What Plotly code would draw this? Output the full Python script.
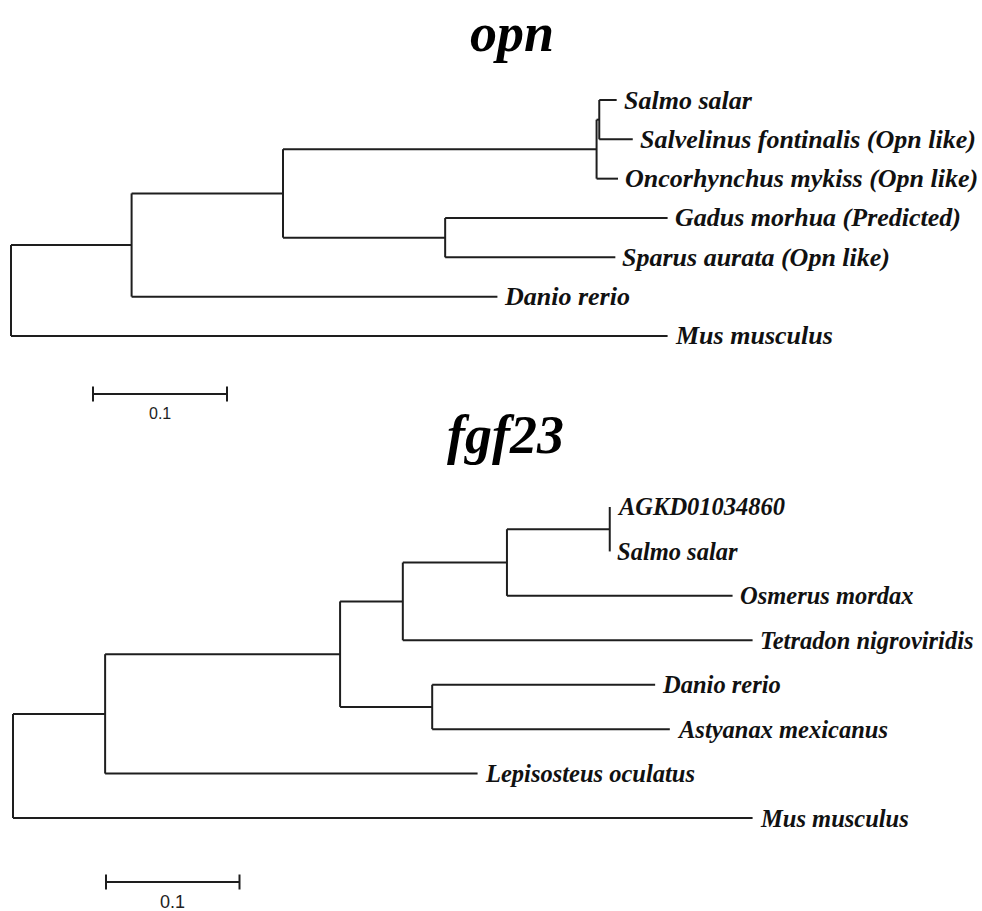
import plotly.graph_objects as go

# ---------------- data ----------------
# opn tree: node ids, parent ids, branch lengths (substitutions/site)
opn_nodes = ["root", "n1", "n2", "n3", "n4",
             "Salmo salar", "Salvelinus fontinalis (Opn like)", "Oncorhynchus mykiss (Opn like)",
             "n5", "Gadus morhua (Predicted)", "Sparus aurata (Opn like)",
             "Danio rerio", "Mus musculus"]
opn_parents = [None, "root", "n1", "n2", "n3",
               "n4", "n4", "n3",
               "n2", "n5", "n5",
               "n1", "root"]
opn_lengths = [0.0, 0.090, 0.113, 0.234, 0.002,
               0.013, 0.025, 0.016,
               0.121, 0.166, 0.127,
               0.273, 0.490]

# fgf23 tree
fgf_nodes = ["root", "m1", "m2", "m3", "m4", "m5",
             "AGKD01034860", "Salmo salar", "Osmerus mordax", "Tetradon nigroviridis",
             "m6", "Danio rerio", "Astyanax mexicanus",
             "Lepisosteus oculatus", "Mus musculus"]
fgf_parents = [None, "root", "m1", "m2", "m3", "m4",
               "m5", "m5", "m4", "m3",
               "m2", "m6", "m6",
               "m1", "root"]
fgf_lengths = [0.0, 0.069, 0.176, 0.047, 0.078, 0.077,
               0.0, 0.0, 0.169, 0.262,
               0.069, 0.167, 0.178,
               0.279, 0.554]

scale_bar_length = 0.1
titles = ["opn", "fgf23"]

# ---------------- layout constants ----------------
W, H = 982, 911
LINE = dict(color="#1e1e1e", width=2)
LABEL_FONT = dict(family="Liberation Serif", color="#111111", weight="bold", style="italic")
TITLE_FONT = dict(family="Liberation Serif", size=54, color="#000000", weight="bold", style="italic")
SCALE_FONT = dict(family="Liberation Sans", color="#222222")


def layout_tree(nodes, parents, lengths):
    children = {n: [] for n in nodes}
    for n, p in zip(nodes, parents):
        if p is not None:
            children[p].append(n)
    blen = dict(zip(nodes, lengths))
    xpos, ypos = {}, {}
    counter = [0]

    def walk(n, x):
        xpos[n] = x + blen[n]
        if children[n]:
            for c in children[n]:
                walk(c, xpos[n])
            ys = [ypos[c] for c in children[n]]
            ypos[n] = (min(ys) + max(ys)) / 2
        else:
            ypos[n] = counter[0]
            counter[0] += 1

    root = nodes[parents.index(None)]
    walk(root, 0.0)
    return children, xpos, ypos


def tree_segments(nodes, parents, children, xpos, ypos):
    xs, ys = [], []
    for n, p in zip(nodes, parents):
        if p is not None:
            xs += [xpos[p], xpos[n], None]
            ys += [ypos[n], ypos[n], None]
        if children[n]:
            cy = [ypos[c] for c in children[n]]
            xs += [xpos[n], xpos[n], None]
            ys += [min(cy), max(cy), None]
    return xs, ys


fig = go.Figure()
annotations = []

panels = [
    dict(nodes=opn_nodes, parents=opn_parents, lengths=opn_lengths, ax="", root_px=11, ppu=1340,
         leaf0=100, dy=39.33, top=0, bot=455, sb_x=93, sb_y=394, sb_ly=413, sb_fs=16, lab_fs=26,
         title=titles[0], title_x=512, title_y=33),
    dict(nodes=fgf_nodes, parents=fgf_parents, lengths=fgf_lengths, ax="2", root_px=13, ppu=1335,
         leaf0=507, dy=44.43, top=455, bot=911, sb_x=106, sb_y=882, sb_ly=902, sb_fs=18, lab_fs=24.5,
         title=titles[1], title_x=505, title_y=435),
]

for P in panels:
    children, xpos, ypos = layout_tree(P["nodes"], P["parents"], P["lengths"])
    xs, ys = tree_segments(P["nodes"], P["parents"], children, xpos, ypos)
    xa, ya = "x" + P["ax"], "y" + P["ax"]
    fig.add_trace(go.Scatter(x=xs, y=ys, mode="lines", line=LINE, xaxis=xa, yaxis=ya,
                             hoverinfo="skip", showlegend=False))
    for n in P["nodes"]:
        if not children[n]:
            annotations.append(dict(x=xpos[n], y=ypos[n], xref=xa, yref=ya, text=n, showarrow=False,
                                    xanchor="left", yanchor="middle", xshift=5,
                                    font=dict(LABEL_FONT, size=P["lab_fs"])))
    # scale bar
    px2x = lambda px: (px - P["root_px"]) / P["ppu"]
    px2y = lambda py: (py - P["leaf0"]) / P["dy"]
    x0 = px2x(P["sb_x"])
    x1 = x0 + scale_bar_length
    yb = px2y(P["sb_y"])
    tick = 7.5 / P["dy"]
    fig.add_trace(go.Scatter(x=[x0, x1, None, x0, x0, None, x1, x1],
                             y=[yb, yb, None, yb - tick, yb + tick, None, yb - tick, yb + tick],
                             mode="lines", line=LINE, xaxis=xa, yaxis=ya, hoverinfo="skip", showlegend=False))
    annotations.append(dict(x=(x0 + x1) / 2, y=px2y(P["sb_ly"]), xref=xa, yref=ya, text=str(scale_bar_length),
                            showarrow=False, xanchor="center", yanchor="middle",
                            font=dict(SCALE_FONT, size=P["sb_fs"])))
    annotations.append(dict(x=P["title_x"] / W, y=1 - P["title_y"] / H, xref="paper", yref="paper",
                            text=P["title"], showarrow=False, xanchor="center", yanchor="middle",
                            font=TITLE_FONT))
    axis_common = dict(visible=False, showgrid=False, zeroline=False, fixedrange=True)
    fig.layout["xaxis" + P["ax"]] = dict(axis_common, domain=[0, 1], anchor=ya,
                                         range=[px2x(0), px2x(W)])
    fig.layout["yaxis" + P["ax"]] = dict(axis_common, domain=[1 - P["bot"] / H, 1 - P["top"] / H],
                                         anchor=xa, range=[px2y(P["bot"]), px2y(P["top"])])

fig.update_layout(width=W, height=H, margin=dict(l=0, r=0, t=0, b=0),
                  paper_bgcolor="white", plot_bgcolor="white", annotations=annotations)
fig.write_html("out.html")
